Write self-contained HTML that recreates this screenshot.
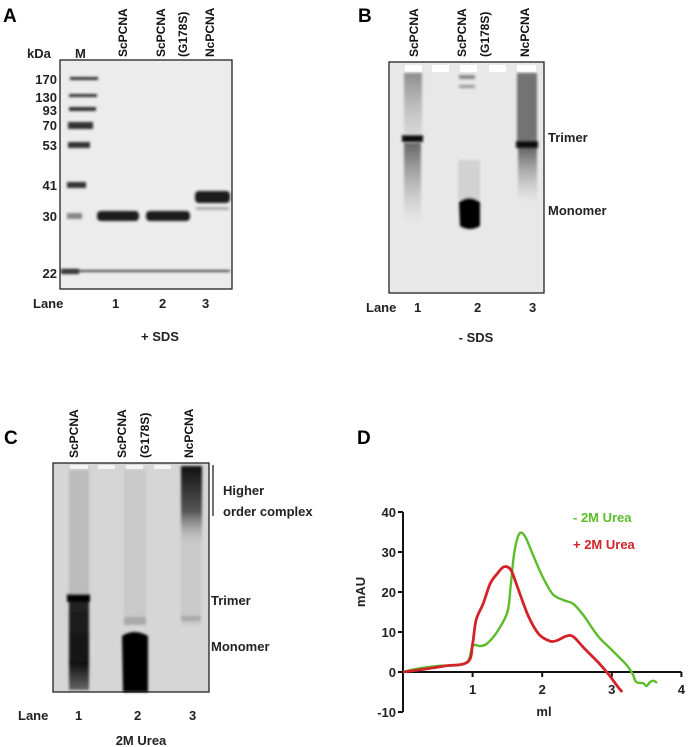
<!DOCTYPE html>
<html><head><meta charset="utf-8">
<style>
html,body{margin:0;padding:0;background:#fff;}
body{width:688px;height:747px;overflow:hidden;position:relative;font-family:"Liberation Sans",sans-serif;}
svg{position:absolute;left:0;top:0;}
.pl{font-weight:bold;font-size:19px;fill:#000;}
.lb{font-weight:bold;font-size:13px;fill:#222;}
.rot{font-weight:bold;font-size:12px;fill:#111;}
</style></head>
<body>
<svg width="688" height="747" viewBox="0 0 688 747">
<defs>
<filter id="b1" x="-50%" y="-50%" width="200%" height="200%"><feGaussianBlur stdDeviation="1.2"/></filter>
<linearGradient id="smearB1" x1="0" y1="0" x2="0" y2="1"><stop offset="0" stop-color="#444" stop-opacity="0.8"/><stop offset="1" stop-color="#999" stop-opacity="0"/></linearGradient>
<linearGradient id="topsmear" x1="0" y1="0" x2="0" y2="1"><stop offset="0" stop-color="#666" stop-opacity="0.7"/><stop offset="1" stop-color="#aaa" stop-opacity="0.25"/></linearGradient>
<linearGradient id="smearC1" x1="0" y1="0" x2="0" y2="1"><stop offset="0" stop-color="#222"/><stop offset="0.7" stop-color="#111"/><stop offset="1" stop-color="#666"/></linearGradient>
<linearGradient id="c3top" x1="0" y1="0" x2="0" y2="1"><stop offset="0" stop-color="#111"/><stop offset="0.6" stop-color="#555"/><stop offset="1" stop-color="#aaa" stop-opacity="0.3"/></linearGradient>
</defs>

<!-- Panel A -->
<g>
<text class="pl" x="3" y="22">A</text>
<text class="lb" x="27" y="58">kDa</text>
<text class="lb" x="75" y="58">M</text>
<g>
<text class="rot" transform="translate(127,57) rotate(-90)">ScPCNA</text>
<text class="rot" transform="translate(165,57) rotate(-90)">ScPCNA</text>
<text class="rot" transform="translate(187,57) rotate(-90)">(G178S)</text>
<text class="rot" transform="translate(214,57) rotate(-90)">NcPCNA</text>
</g>
<rect x="60" y="60" width="172" height="229" fill="#ececec" stroke="#222" stroke-width="1.3"/>
<g text-anchor="end">
<text class="lb" x="57" y="84">170</text><text class="lb" x="57" y="102">130</text>
<text class="lb" x="57" y="115">93</text><text class="lb" x="57" y="130">70</text>
<text class="lb" x="57" y="150">53</text><text class="lb" x="57" y="190">41</text>
<text class="lb" x="57" y="221">30</text><text class="lb" x="57" y="278">22</text>
</g>
<g fill="#333" filter="url(#b1)">
<rect x="70" y="77" width="28" height="3"/><rect x="69" y="94" width="28" height="3"/>
<rect x="69" y="107" width="27" height="4"/><rect x="68" y="122" width="25" height="7"/>
<rect x="68" y="142" width="22" height="6"/><rect x="67" y="182" width="19" height="6"/>
<rect x="67" y="213" width="15" height="6" fill="#888"/><rect x="61" y="269" width="18" height="5"/>
</g>
<g fill="#1a1a1a" filter="url(#b1)">
<rect x="97" y="211" width="42" height="10" rx="4"/>
<rect x="146" y="211" width="44" height="10" rx="4"/>
<rect x="195" y="191" width="35" height="12" rx="4"/>
<rect x="196" y="207" width="33" height="3" fill="#aaa"/>
<rect x="62" y="270" width="168" height="2" fill="#444"/>
</g>
<g>
<text class="lb" x="33" y="308">Lane</text><text class="lb" x="112" y="308">1</text>
<text class="lb" x="159" y="308">2</text><text class="lb" x="202" y="308">3</text>
</g>
<text class="lb" x="160" y="341" text-anchor="middle">+ SDS</text>
</g>

<!-- Panel B -->
<g>
<text class="pl" x="358" y="22">B</text>
<g>
<text class="rot" transform="translate(418,57) rotate(-90)">ScPCNA</text>
<text class="rot" transform="translate(466,57) rotate(-90)">ScPCNA</text>
<text class="rot" transform="translate(489,57) rotate(-90)">(G178S)</text>
<text class="rot" transform="translate(529,57) rotate(-90)">NcPCNA</text>
</g>
<rect x="389" y="62" width="155" height="231" fill="#e8e8e8" stroke="#222" stroke-width="1.3"/>
<g fill="#fff">
<rect x="405" y="65" width="17" height="7"/><rect x="432" y="65" width="17" height="7"/><rect x="460" y="65" width="17" height="7"/><rect x="489" y="65" width="17" height="7"/><rect x="517" y="65" width="19" height="7"/>
</g>
<g filter="url(#b1)">
<rect x="404" y="73" width="18" height="62" fill="url(#topsmear)"/>
<rect x="404" y="143" width="17" height="80" fill="url(#smearB1)"/>
<rect x="402" y="135" width="21" height="7" fill="#111"/>
<rect x="459" y="75" width="16" height="4" fill="#888"/>
<rect x="459" y="85" width="16" height="3" fill="#999"/>
<rect x="458" y="160" width="22" height="40" fill="#bbb" opacity="0.5"/>
<path d="M459 202 Q469 194 480 202 L480 226 Q470 232 460 226 Z" fill="#000"/>
<rect x="517" y="73" width="20" height="68" fill="#555" opacity="0.8"/>
<rect x="516" y="141" width="22" height="7" fill="#111"/>
<rect x="518" y="148" width="19" height="55" fill="url(#smearB1)"/>
</g>
<text class="lb" x="548" y="142">Trimer</text>
<text class="lb" x="548" y="215">Monomer</text>
<g>
<text class="lb" x="366" y="312">Lane</text><text class="lb" x="414" y="312">1</text>
<text class="lb" x="474" y="312">2</text><text class="lb" x="529" y="312">3</text>
</g>
<text class="lb" x="476" y="342" text-anchor="middle">- SDS</text>
</g>

<!-- Panel C -->
<g>
<text class="pl" x="4" y="444">C</text>
<g>
<text class="rot" transform="translate(78,458) rotate(-90)">ScPCNA</text>
<text class="rot" transform="translate(126,458) rotate(-90)">ScPCNA</text>
<text class="rot" transform="translate(149,458) rotate(-90)">(G178S)</text>
<text class="rot" transform="translate(193,458) rotate(-90)">NcPCNA</text>
</g>
<rect x="53" y="463" width="156" height="229" fill="#d6d6d6" stroke="#222" stroke-width="1.3"/>
<g fill="#f4f4f4"><rect x="70" y="465" width="18" height="4"/><rect x="98" y="465" width="17" height="4"/><rect x="126" y="465" width="17" height="4"/><rect x="154" y="465" width="17" height="4"/></g>
<g filter="url(#b1)">
<rect x="69" y="470" width="20" height="125" fill="#aaa" opacity="0.6"/>
<rect x="67" y="594" width="23" height="8" fill="#000"/>
<rect x="69" y="602" width="20" height="88" fill="url(#smearC1)"/>
<rect x="124" y="470" width="22" height="150" fill="#bbb" opacity="0.5"/>
<rect x="124" y="617" width="22" height="8" fill="#aaa"/>
<path d="M122 636 Q134 628 148 636 L148 692 L123 692 Z" fill="#000"/>
<rect x="181" y="466" width="21" height="75" fill="url(#c3top)"/>
<rect x="181" y="540" width="20" height="85" fill="#bbb" opacity="0.5"/>
<rect x="181" y="616" width="20" height="5" fill="#aaa"/>
</g>
<line x1="213" y1="465" x2="213" y2="516" stroke="#222" stroke-width="1.3"/>
<text class="lb" x="223" y="495">Higher</text>
<text class="lb" x="223" y="516">order complex</text>
<text class="lb" x="211" y="605">Trimer</text>
<text class="lb" x="211" y="651">Monomer</text>
<g>
<text class="lb" x="18" y="720">Lane</text><text class="lb" x="75" y="720">1</text>
<text class="lb" x="134" y="720">2</text><text class="lb" x="189" y="720">3</text>
</g>
<text class="lb" x="141" y="745" text-anchor="middle">2M Urea</text>
</g>

<!-- Panel D -->
<g id="chart">
<text class="pl" x="357" y="444">D</text>
<text class="lb" transform="translate(365,592) rotate(-90)" text-anchor="middle">mAU</text>
<text class="lb" x="544" y="716" text-anchor="middle">ml</text>
<text class="lb" x="573" y="522" style="fill:#5bbd2b">- 2M Urea</text>
<text class="lb" x="573" y="549" style="fill:#d2232a">+ 2M Urea</text>
</g>
</svg>
<script>
const xTicks=[1,2,3,4];
const yTicks=[-10,0,10,20,30,40];
const greenX=[0,0.2,0.5,0.9,1.0,1.1,1.2,1.35,1.5,1.55,1.6,1.67,1.75,1.85,2.0,2.15,2.3,2.45,2.6,2.8,3.0,3.2,3.3,3.35,3.45,3.5,3.55,3.6,3.65];
const greenY=[0,0.8,1.5,2.2,6.5,6.5,7,10,15,22,30,34.5,34,30,24,19.5,18,17,14,9,5.5,2,-0.5,-2.5,-2.8,-3.5,-2.5,-2.2,-2.7];
const redX=[0,0.3,0.6,0.93,1.0,1.05,1.15,1.25,1.35,1.45,1.55,1.65,1.8,1.95,2.1,2.2,2.35,2.45,2.6,2.8,2.95,3.1,3.15];
const redY=[0,0.7,1.5,2.5,7,13,17,22,24.5,26.3,25.5,21,14,9.5,7.8,7.8,9,8.8,6,2.5,-0.5,-4,-5];
const NS='http://www.w3.org/2000/svg';
const g=document.getElementById('chart');
const X=v=>403+v*69.6;
const Y=v=>672-v*4;
function mk(t,a){const e=document.createElementNS(NS,t);for(const k in a)e.setAttribute(k,a[k]);g.appendChild(e);return e;}
const ya=mk('line',{x1:403,y1:Y(40),x2:403,y2:Y(-10),stroke:'#111','stroke-width':2});


const xa=mk('line',{x1:403,y1:Y(0),x2:X(4),y2:Y(0),stroke:'#111','stroke-width':2});


yTicks.forEach(v=>{
 const t=mk('line',{x1:398,y1:Y(v),x2:403,y2:Y(v),stroke:'#111','stroke-width':2});
 
 
 const l=mk('text',{x:396,y:Y(v)+5,'text-anchor':'end',class:'lb'});l.textContent=v;
 
 
});
xTicks.forEach(v=>{
 const t=mk('line',{x1:X(v),y1:Y(0),x2:X(v),y2:Y(0)+5,stroke:'#111','stroke-width':2});
 
 
 const l=mk('text',{x:X(v),y:Y(0)+22,'text-anchor':'middle',class:'lb'});l.textContent=v;
 
 
});
function smooth(xs,ys){
 const p=xs.map((x,i)=>[X(x),Y(ys[i])]);
 let d='M'+p[0][0].toFixed(1)+' '+p[0][1].toFixed(1);
 for(let i=0;i<p.length-1;i++){
  const p0=p[i-1]||p[i],p1=p[i],p2=p[i+1],p3=p[i+2]||p2;
  const c1=[p1[0]+(p2[0]-p0[0])/6,p1[1]+(p2[1]-p0[1])/6];
  const c2=[p2[0]-(p3[0]-p1[0])/6,p2[1]-(p3[1]-p1[1])/6];
  d+=' C'+c1.map(v=>v.toFixed(1)).join(' ')+' '+c2.map(v=>v.toFixed(1)).join(' ')+' '+p2[0].toFixed(1)+' '+p2[1].toFixed(1);
 }
 return d;
}
const gl=mk('path',{d:smooth(greenX,greenY),fill:'none',stroke:'#5bbd2b','stroke-width':2.4,'stroke-linejoin':'round'});


const rl=mk('path',{d:smooth(redX,redY),fill:'none',stroke:'#d2232a','stroke-width':2.8,'stroke-linejoin':'round'});


</script>
</body></html>
